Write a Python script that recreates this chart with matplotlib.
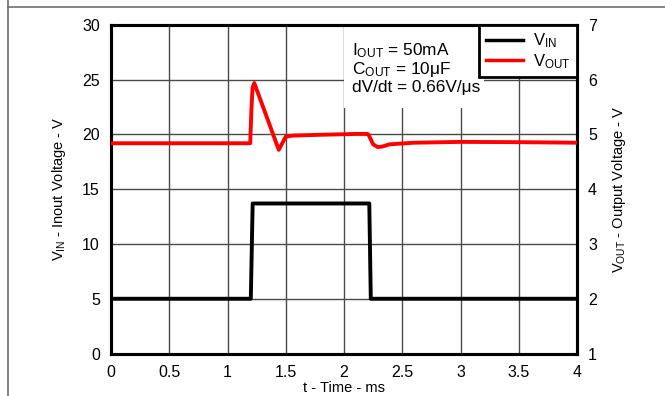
import matplotlib
matplotlib.use("Agg")
import matplotlib.pyplot as plt
from matplotlib.lines import Line2D
from matplotlib.patches import Rectangle

plt.rcParams['font.family'] = ['Liberation Sans', 'DejaVu Sans']
plt.rcParams['mathtext.fontset'] = 'custom'
plt.rcParams['mathtext.rm'] = 'Liberation Sans'
plt.rcParams['mathtext.it'] = 'Liberation Sans'

# Data
t_in = [0.0, 1.20, 1.216, 2.217, 2.23, 4.0]
v_in = [5.0, 5.0, 13.7, 13.7, 5.0, 5.0]

t_out = [0.0, 1.195, 1.205, 1.215, 1.23, 1.44, 1.50, 1.56, 1.8, 2.1, 2.2, 2.21,
         2.25, 2.29, 2.33, 2.39, 2.6, 3.0, 3.5, 4.0]
v_out = [4.84, 4.84, 5.45, 5.85, 5.94, 4.72, 4.96, 4.98, 4.995, 5.01, 5.01, 5.0,
         4.82, 4.77, 4.78, 4.82, 4.85, 4.865, 4.86, 4.85]

x_ticks = [0, 0.5, 1, 1.5, 2, 2.5, 3, 3.5, 4]
x_labels = ['0', '0.5', '1', '1.5', '2', '2.5', '3', '3.5', '4']
yl_ticks = [0, 5, 10, 15, 20, 25, 30]
yr_ticks = [1, 2, 3, 4, 5, 6, 7]

fig = plt.figure(figsize=(6.65, 3.96), dpi=100)
ax = fig.add_axes([111/665, 1 - 353.5/396, (577-111)/665, (353.5-25)/396])
ax2 = ax.twinx()

ax.set_xlim(0, 4)
ax.set_ylim(0, 30)
ax2.set_ylim(1, 7)
ax.set_xticks(x_ticks)
ax.set_xticklabels(x_labels)
ax.set_yticks(yl_ticks)
ax2.set_yticks(yr_ticks)

ax.set_axisbelow(True)
ax.grid(True, color='#4a4a4a', lw=1.0)
for a in (ax, ax2):
    a.tick_params(length=0, labelsize=11.5, pad=8)
    for s in a.spines.values():
        s.set_linewidth(2.2)
        s.set_color('black')

# white box behind annotation
ax.add_patch(Rectangle((2.0, 22.4), 1.2, 7.5, facecolor='white', edgecolor='none', zorder=1.5))

l1, = ax.plot(t_in, v_in, color='black', lw=2.8, zorder=3)
l2, = ax2.plot(t_out, v_out, color='#ff0000', lw=2.8, zorder=3)

ax.set_xlabel('t - Time - ms', fontsize=10.5, labelpad=1)
ax.set_ylabel(r'V$_{\rm IN}$ - Inout Voltage - V', fontsize=10.5, labelpad=10)
ax2.set_ylabel(r'V$_{\rm OUT}$ - Output Voltage - V', fontsize=10.5, labelpad=9)

ax.text(2.07, 28.5, 'I$_{\\rm OUT}$ = 50mA\nC$_{\\rm OUT}$ = 10\u03bcF\ndV/dt = 0.66V/\u03bcs',
        fontsize=12.4, va='top', ha='left', linespacing=1.02, zorder=4)

leg = ax2.legend([l1, l2], [r'V$_{\rm IN}$', r'V$_{\rm OUT}$'], loc='upper right',
                 borderaxespad=0, fancybox=False, framealpha=1, edgecolor='black',
                 fontsize=12, handlelength=2.2, labelspacing=0.1, borderpad=0.4,
                 handletextpad=0.6)
leg.get_frame().set_linewidth(2)
for h in leg.get_lines():
    h.set_linewidth(2.5)

# outer frame lines
fig.add_artist(Line2D([8/665, 8/665], [0, 1], color='#707070', lw=1.2, transform=fig.transFigure))
fig.add_artist(Line2D([8/665, 1], [1 - 7/396, 1 - 7/396], color='#707070', lw=1.2, transform=fig.transFigure))

fig.savefig('out.png', dpi=100)
